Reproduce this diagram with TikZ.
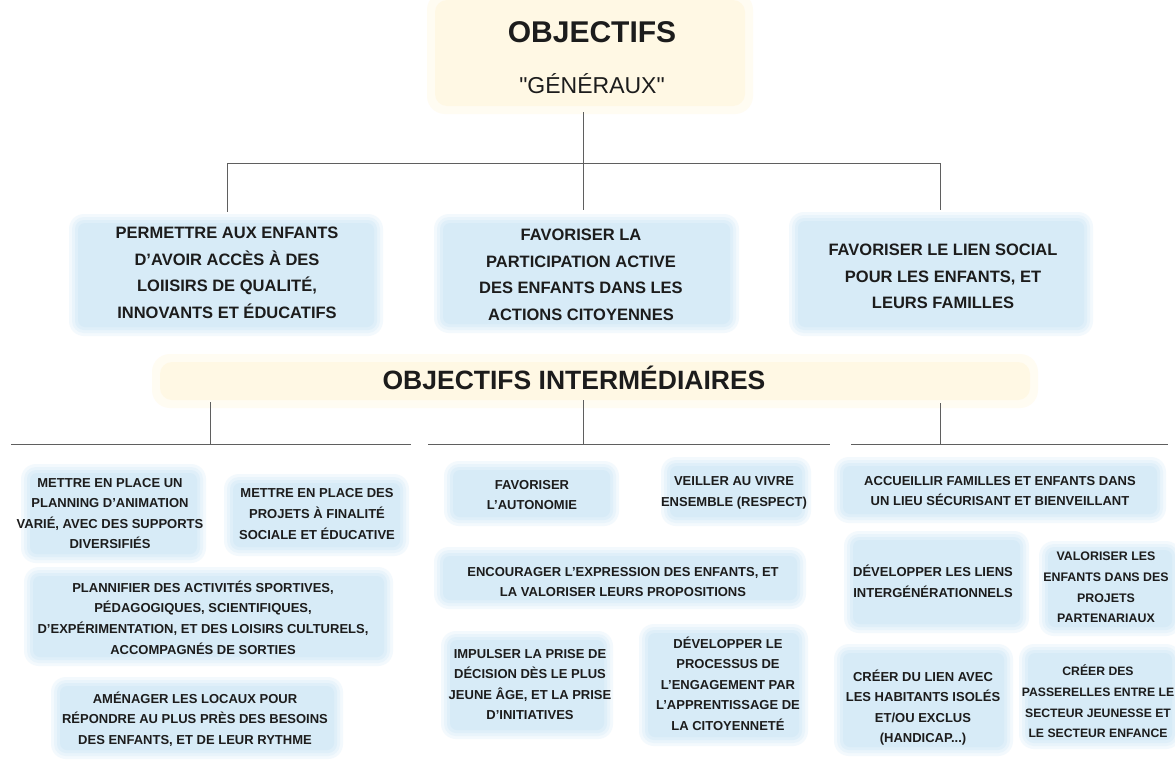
\documentclass[tikz,border=0pt]{standalone}
\usepackage{fontspec}
\setmainfont{Liberation Sans}
\newfontfamily\quotefont{Liberation Sans}[Ligatures=ResetAll]
\definecolor{blobA}{RGB}{243,249,253}
\definecolor{blobB}{RGB}{233,244,251}
\definecolor{blobC}{RGB}{223,239,249}
\definecolor{blobD}{RGB}{215,235,247}
\definecolor{blobyellow}{RGB}{255,248,228}
\definecolor{yellowsoft}{RGB}{255,252,242}
\definecolor{ink}{RGB}{28,28,28}
\definecolor{linegray}{RGB}{95,95,95}
\newcommand\softblob[4]{%
  \fill[blobAstyle] (#1-6,#2-6) rectangle (#3+6,#4+6);
  \fill[blobBstyle] (#1-3,#2-3) rectangle (#3+3,#4+3);
  \fill[blobCstyle] (#1,#2) rectangle (#3,#4);
  \fill[blobDstyle] (#1+3,#2+3) rectangle (#3-3,#4-3);}
\newcommand\yellowblob[4]{%
  \fill[yellowsoftstyle] (#1-8,#2-8) rectangle (#3+8,#4+8);
  \fill[yellowstyle] (#1,#2) rectangle (#3,#4);}
\begin{document}
\begin{tikzpicture}[x=1pt,y=-1pt,
  blobAstyle/.style={fill=blobA, rounded corners=15pt},
  blobBstyle/.style={fill=blobB, rounded corners=12pt},
  blobCstyle/.style={fill=blobC, rounded corners=9pt},
  blobDstyle/.style={fill=blobD, rounded corners=7pt},
  yellowstyle/.style={fill=blobyellow, rounded corners=12pt},
  yellowsoftstyle/.style={fill=yellowsoft, rounded corners=18pt},
  mainbox/.style={font=\bfseries\fontsize{16.5}{26.5}\selectfont, align=center, text=ink, inner sep=0pt},
  subbox/.style={font=\bfseries\fontsize{13}{20.6}\selectfont, align=center, text=ink, inner sep=0pt},
  conn/.style={draw=linegray, line width=0.9pt}]
\useasboundingbox[fill=white] (0,0) rectangle (1175,779);

% backgrounds
\yellowblob{435}{0}{745}{106}
\yellowblob{160}{362}{1030}{400}
\softblob{75}{220}{377}{330}
\softblob{440}{220}{733}{327}
\softblob{795}{218}{1087}{330}
\softblob{27}{470}{200}{557}
\softblob{230}{480}{403}{550}
\softblob{30}{573}{387}{660}
\softblob{57}{683}{337}{753}
\softblob{450}{467}{613}{520}
\softblob{667}{463}{805}{520}
\softblob{440}{553}{800}{603}
\softblob{447}{637}{607}{733}
\softblob{645}{630}{802}{740}
\softblob{840}{463}{1160}{517}
\softblob{850}{537}{1023}{627}
\softblob{1045}{547}{1175}{630}
\softblob{840}{650}{1007}{750}
\softblob{1025}{650}{1175}{743}

% titles
\node[font=\bfseries\fontsize{30}{36}\selectfont, text=ink, inner sep=0pt] (obj) at (592,32) {OBJECTIFS};
\node[font=\quotefont\fontsize{23}{28}\selectfont, text=ink, inner sep=0pt] (gen) at (592,84) {"GÉNÉRAUX"};
\node[font=\bfseries\fontsize{26.5}{32}\selectfont, text=ink, inner sep=0pt] (inter) at (574,378) {OBJECTIFS INTERMÉDIAIRES};

% general objectives
\node[mainbox] (b1) at (227,273) {PERMETTRE AUX ENFANTS\\D'AVOIR ACCÈS À DES\\LOIISIRS DE QUALITÉ,\\INNOVANTS ET ÉDUCATIFS};
\node[mainbox] (b2) at (581,275) {FAVORISER LA\\PARTICIPATION ACTIVE\\DES ENFANTS DANS LES\\ACTIONS CITOYENNES};
\node[mainbox] (b3) at (943,276.5) {FAVORISER LE LIEN SOCIAL\\POUR LES ENFANTS, ET\\LEURS FAMILLES};

% intermediate objectives
\node[subbox] (l1) at (110,513.5) {METTRE EN PLACE UN\\PLANNING D'ANIMATION\\VARIÉ, AVEC DES SUPPORTS\\DIVERSIFIÉS};
\node[subbox] (l2) at (317,514) {METTRE EN PLACE DES\\PROJETS À FINALITÉ\\SOCIALE ET ÉDUCATIVE};
\node[subbox] (l3) at (203,617.5) {PLANNIFIER DES ACTIVITÉS SPORTIVES,\\PÉDAGOGIQUES, SCIENTIFIQUES,\\D'EXPÉRIMENTATION, ET DES LOISIRS CULTURELS,\\ACCOMPAGNÉS DE SORTIES};
\node[subbox] (l4) at (195,719) {AMÉNAGER LES LOCAUX POUR\\RÉPONDRE AU PLUS PRÈS DES BESOINS\\DES ENFANTS, ET DE LEUR RYTHME};

\node[subbox] (m1) at (532,495) {FAVORISER\\L'AUTONOMIE};
\node[subbox] (m2) at (734,493) {VEILLER AU VIVRE\\ENSEMBLE (RESPECT)};
\node[subbox] (m3) at (623,582) {ENCOURAGER L'EXPRESSION DES ENFANTS, ET\\LA VALORISER LEURS PROPOSITIONS};
\node[subbox] (m4) at (530,684.5) {IMPULSER LA PRISE DE\\DÉCISION DÈS LE PLUS\\JEUNE ÂGE, ET LA PRISE\\D'INITIATIVES};
\node[subbox] (m5) at (728,683.5) {DÉVELOPPER LE\\PROCESSUS DE\\L'ENGAGEMENT PAR\\L'APPRENTISSAGE DE\\LA CITOYENNETÉ};

\node[subbox] (r1) at (1000,491) {ACCUEILLIR FAMILLES ET ENFANTS DANS\\UN LIEU SÉCURISANT ET BIENVEILLANT};
\node[subbox] (r2) at (933,581) {DÉVELOPPER LES LIENS\\INTERGÉNÉRATIONNELS};
\node[subbox, font=\bfseries\fontsize{12.4}{20.6}\selectfont] (r3) at (1106,587.5) {VALORISER LES\\ENFANTS DANS DES\\PROJETS\\PARTENARIAUX};
\node[subbox] (r4) at (923,707.5) {CRÉER DU LIEN AVEC\\LES HABITANTS ISOLÉS\\ET/OU EXCLUS\\(HANDICAP...)};
\node[subbox, font=\bfseries\fontsize{12.2}{20.6}\selectfont] (r5) at (1098,701.5) {CRÉER DES\\PASSERELLES ENTRE LE\\SECTEUR JEUNESSE ET\\LE SECTEUR ENFANCE};

% top tree
\coordinate (tTop) at (583,112);
\coordinate (tJ) at (583,163);
\coordinate (tL) at (227,163);
\coordinate (tR) at (940,163);
\coordinate (e1) at (227,212);
\coordinate (e2) at (583,210);
\coordinate (e3) at (940,210);
\draw[conn] (tTop) -- (tJ);
\draw[conn] (tL) -- (tR);
\draw[conn] (tL) -- (e1);
\draw[conn] (tJ) -- (e2);
\draw[conn] (tR) -- (e3);

% lower tree
\coordinate (v1t) at (210,402);
\coordinate (v2t) at (583,400);
\coordinate (v3t) at (940,403);
\coordinate (v1b) at (210,444);
\coordinate (v2b) at (583,444);
\coordinate (v3b) at (940,444);
\coordinate (h1a) at (11,444);
\coordinate (h1b) at (411,444);
\coordinate (h2a) at (428,444);
\coordinate (h2b) at (830,444);
\coordinate (h3a) at (851,444);
\coordinate (h3b) at (1168,444);
\draw[conn] (v1t) -- (v1b);
\draw[conn] (v2t) -- (v2b);
\draw[conn] (v3t) -- (v3b);
\draw[conn] (h1a) -- (h1b);
\draw[conn] (h2a) -- (h2b);
\draw[conn] (h3a) -- (h3b);
\end{tikzpicture}
\end{document}
